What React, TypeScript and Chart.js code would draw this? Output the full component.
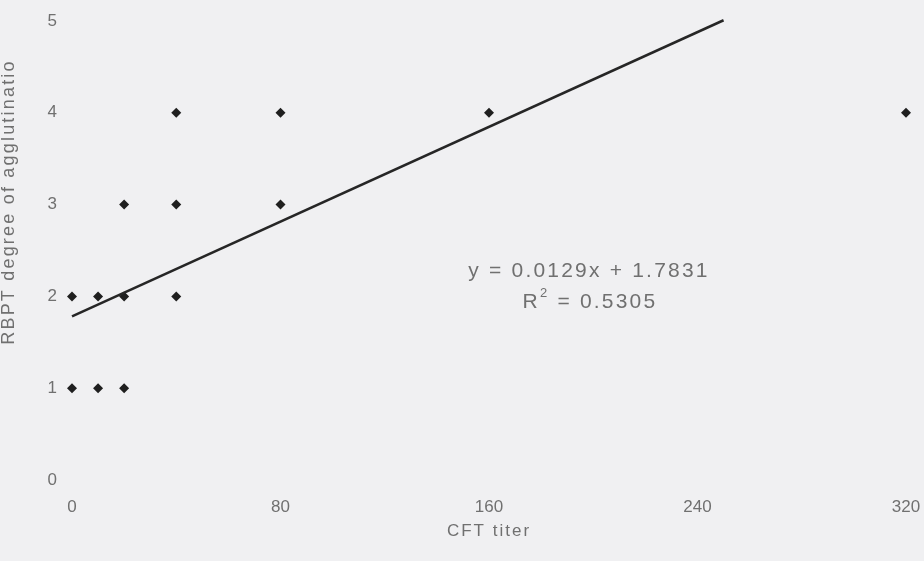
import React, { useEffect, useRef } from "react";
import { Chart, registerables } from "chart.js";

Chart.register(...registerables);

const pointX = [0, 0, 10, 10, 20, 20, 20, 40, 40, 40, 80, 80, 160, 320];
const pointY = [1, 2, 1, 2, 1, 2, 3, 2, 3, 4, 3, 4, 4, 4];
const trendX = [0, 250];
const slope = 0.0129;
const intercept = 1.7831;
const xTicks = [0, 80, 160, 240, 320];
const yTicks = [0, 1, 2, 3, 4, 5];
const eqLine1 = "y = 0.0129x + 1.7831";
const eqLine2R = "R";
const eqLine2Rest = " = 0.5305";
const xTitle = "CFT titer";
const yTitle = "RBPT degree of agglutinatio";

const TEXT = "#707070";
const FONT = "'Liberation Sans', Arial, sans-serif";

const decorPlugin = {
  id: "decor",
  beforeDraw(chart: any) {
    const ctx = chart.ctx;
    ctx.save();
    ctx.fillStyle = "#f0f0f2";
    ctx.fillRect(0, 0, chart.width, chart.height);
    ctx.restore();
  },
  afterDraw(chart: any) {
    const ctx = chart.ctx;
    ctx.save();
    ctx.fillStyle = TEXT;
    ctx.textBaseline = "middle";
    ctx.textAlign = "center";
    (ctx as any).letterSpacing = "2px";
    ctx.font = `17px ${FONT}`;
    ctx.fillText(xTitle, 489, 531);
    ctx.save();
    ctx.translate(9, 202);
    ctx.rotate(-Math.PI / 2);
    (ctx as any).letterSpacing = "2.2px";
    ctx.font = `18px ${FONT}`;
    ctx.fillText(yTitle, 0, 0);
    ctx.restore();
    (ctx as any).letterSpacing = "2.2px";
    ctx.font = `21px ${FONT}`;
    ctx.fillText(eqLine1, 589, 271);
    const wR = ctx.measureText(eqLine2R).width;
    const wRest = ctx.measureText(eqLine2Rest).width;
    ctx.font = `13px ${FONT}`;
    const w2 = ctx.measureText("2").width;
    const total = wR + w2 + wRest;
    const start = 590 - total / 2;
    ctx.textAlign = "left";
    ctx.font = `21px ${FONT}`;
    ctx.fillText(eqLine2R, start, 302);
    ctx.font = `13px ${FONT}`;
    ctx.fillText("2", start + wR, 293);
    ctx.font = `21px ${FONT}`;
    ctx.fillText(eqLine2Rest, start + wR + w2, 302);
    ctx.restore();
  },
};

export default function App() {
  const ref = useRef<HTMLCanvasElement | null>(null);
  useEffect(() => {
    document.body.style.margin = "0";
    const canvas = ref.current!;
    const chart = new Chart(canvas, {
      type: "scatter",
      data: {
        datasets: [
          {
            type: "line",
            data: trendX.map((x) => ({ x, y: slope * x + intercept })),
            borderColor: "#262626",
            borderWidth: 2.5,
            pointRadius: 0,
            fill: false,
            clip: false as any,
          },
          {
            data: pointX.map((x, i) => ({ x, y: pointY[i] })),
            pointStyle: "rectRot",
            pointRadius: 5,
            backgroundColor: "#1f1f1f",
            borderColor: "#1f1f1f",
            borderWidth: 0,
            clip: false as any,
          },
        ],
      },
      options: {
        responsive: false,
        animation: false,
        layout: { padding: { left: 0, top: 21, right: 18, bottom: 0 } },
        plugins: { legend: { display: false }, tooltip: { enabled: false } },
        scales: {
          x: {
            type: "linear",
            min: 0,
            max: 320,
            afterBuildTicks: (s: any) => {
              s.ticks = xTicks.map((v) => ({ value: v }));
            },
            afterFit: (s: any) => {
              s.height = 81;
              s.paddingLeft = 0;
              s.paddingRight = 0;
            },
            grid: { display: false, drawTicks: false },
            border: { display: false },
            ticks: {
              color: TEXT,
              font: { family: FONT, size: 17 },
              padding: 17,
              maxRotation: 0,
            },
          },
          y: {
            type: "linear",
            min: 0,
            max: 5,
            afterBuildTicks: (s: any) => {
              s.ticks = yTicks.map((v) => ({ value: v }));
            },
            afterFit: (s: any) => {
              s.width = 72;
              s.paddingTop = 0;
              s.paddingBottom = 0;
            },
            grid: { display: false, drawTicks: false },
            border: { display: false },
            ticks: {
              color: TEXT,
              font: { family: FONT, size: 17 },
              padding: 15,
            },
          },
        },
      },
      plugins: [decorPlugin],
    });
    return () => chart.destroy();
  }, []);
  return (
    <div style={{ position: "fixed", left: 0, top: 0, width: 924, height: 561 }}>
      <canvas ref={ref} width={924} height={561} />
    </div>
  );
}
